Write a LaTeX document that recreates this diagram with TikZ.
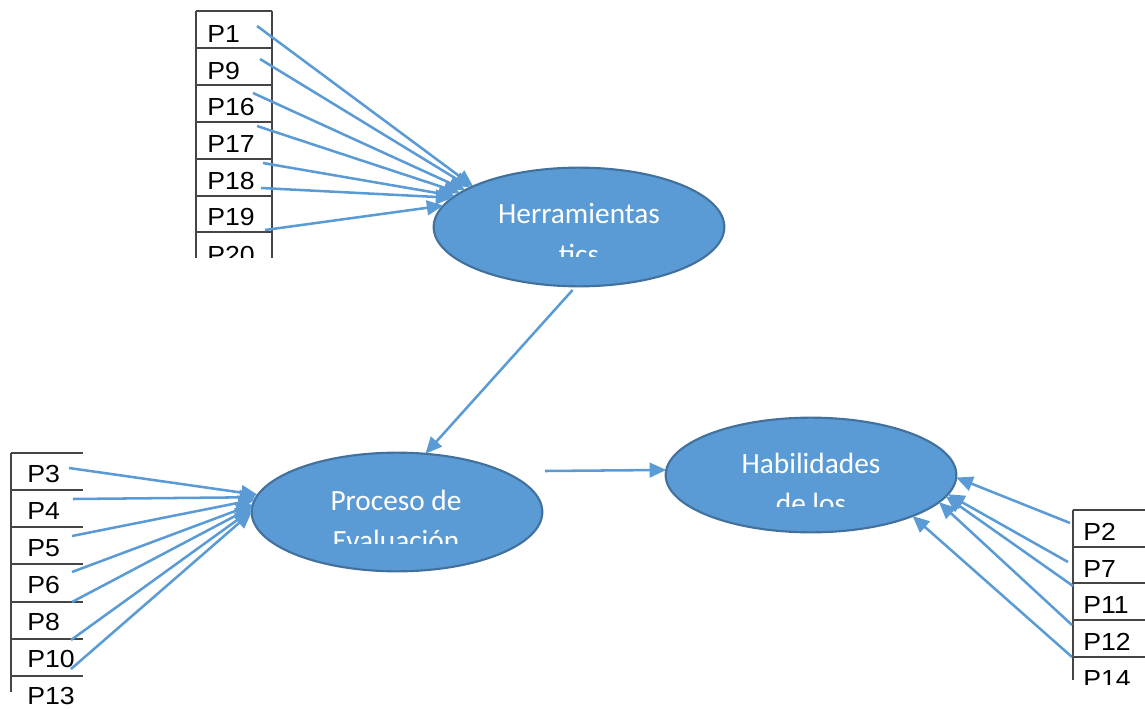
\documentclass[tikz,border=0pt]{standalone}
\usepackage{fontspec}
\newfontfamily\ellfont{Carlito}
\newfontfamily\lblfont[FakeStretch=1.08]{Liberation Sans}
\usetikzlibrary{calc,positioning,arrows.meta,shapes}
\definecolor{ellblue}{HTML}{5B9BD5}
\definecolor{ellline}{HTML}{41719C}
\definecolor{rulegray}{HTML}{454545}

\begin{document}
\begin{tikzpicture}[x=0.75pt,y=-0.75pt,
        ell/.style={ellipse,draw=ellline,fill=ellblue,line width=1.6pt,outer sep=0pt,inner sep=0pt,minimum width=218pt,minimum height=89pt},
        etxt/.style={anchor=base,align=center,inner sep=0pt,text=white,font=\ellfont\fontsize{22}{30}\selectfont},
        lbl/.style={anchor=base west,inner sep=0pt,font=\lblfont\fontsize{18.5}{21}\selectfont},
        tbl/.style={draw=rulegray,line width=1.2pt},
        arr/.style={draw=ellblue,line width=1.9pt,-{Triangle[length=12.5pt,width=11pt]}}]

        \clip (0,0) rectangle (1145,709);

        % tables
        \foreach \y in {11,48,85,122,159,196,232}
            \draw[tbl] (196,\y) -- (272,\y);
        \draw[tbl] (196,11) -- (196,258);
        \draw[tbl] (272,11) -- (272,258);

        \foreach \y in {453,490,527,564,602,639,676}
            \draw[tbl] (11,\y) -- (83,\y);
        \draw[tbl] (11,453) -- (11,692);

        \foreach \y in {510,547,583,620,657}
            \draw[tbl] (1073,\y) -- (1150,\y);
        \draw[tbl] (1073,510) -- (1073,680);

        \begin{scope}
            \clip (190,0) rectangle (280,258);
            \node[lbl] (p1) at (207,43) {P1};
            \node[lbl] (p9) at (207,80) {P9};
            \node[lbl] (p16) at (207,116) {P16};
            \node[lbl] (p17) at (207,153) {P17};
            \node[lbl] (p18) at (207,190) {P18};
            \node[lbl] (p19) at (207,226) {P19};
            \node[lbl] (p20) at (207,263) {P20};
        \end{scope}

        \node[lbl] (p3) at (27,482) {P3};
        \node[lbl] (p4) at (27,519) {P4};
        \node[lbl] (p5) at (27,556) {P5};
        \node[lbl] (p6) at (27,593) {P6};
        \node[lbl] (p8) at (27,630) {P8};
        \node[lbl] (p10) at (27,667) {P10};
        \node[lbl] (p13) at (27,704) {P13};

        \begin{scope}
            \clip (1060,500) rectangle (1150,684);
            \node[lbl] (p2) at (1083,540) {P2};
            \node[lbl] (p7) at (1083,577) {P7};
            \node[lbl] (p11) at (1083,613) {P11};
            \node[lbl] (p12) at (1083,650) {P12};
            \node[lbl] (p14) at (1083,687) {P14};
        \end{scope}

        % ellipses
        \node[ell] (her) at (579,227) {};
        \node[ell] (pro) at (397,512) {};
        \node[ell,minimum height=86pt] (hab) at (811,475) {};

        % text of the ellipses, second line cut off
        \begin{scope}
            \clip ($(her.center)+(-140,-60)$) rectangle ($(her.center)+(140,30)$);
            \node[etxt] (hertxt) at ($(her.center)+(0,37)$) {Herramientas\\tics};
        \end{scope}
        \begin{scope}
            \clip ($(pro.center)+(-140,-60)$) rectangle ($(pro.center)+(140,31)$);
            \node[etxt] (protxt) at ($(pro.center)+(-1,38)$) {Proceso de\\Evaluación};
        \end{scope}
        \begin{scope}
            \clip ($(hab.center)+(-140,-60)$) rectangle ($(hab.center)+(140,31)$);
            \node[etxt] (habtxt) at ($(hab.center)+(0,38)$) {Habilidades\\de los};
        \end{scope}

        % arrow starts
        \foreach \n/\x/\y in {1/257/26,2/260/59,3/253/93,4/257/126,5/263/163,6/261/188,7/265/230}
            \coordinate (a\n) at (\x,\y);
        \foreach \n/\x/\y in {1/69/468,2/73/499,3/72/536,4/72/572,5/72/602,6/71/640,7/71/669}
            \coordinate (b\n) at (\x,\y);
        \foreach \n/\x/\y in {1/1070/523,2/1068/562,3/1073/586,4/1072/625,5/1072/657}
            \coordinate (c\n) at (\x,\y);
        \coordinate (pe) at (545,471);

        % arrows
        \foreach \n/\a in {1/159,2/160,3/162,4/164,5/166,6/167,7/171}
            \draw[arr] (a\n) -- (her.\a);
        \foreach \n/\a in {1/173,2/174,3/175,4/177,5/178,6/179,7/180}
            \draw[arr] (b\n) -- (pro.\a);
        \foreach \n/\a in {1/359,2/352,3/351,4/348,5/338}
            \draw[arr] (c\n) -- (hab.\a);

        \draw[arr,shorten <=3.75pt] (her.267) -- (pro.64);
        \draw[arr] (pe) -- (hab.178);

    \end{tikzpicture}
\end{document}
